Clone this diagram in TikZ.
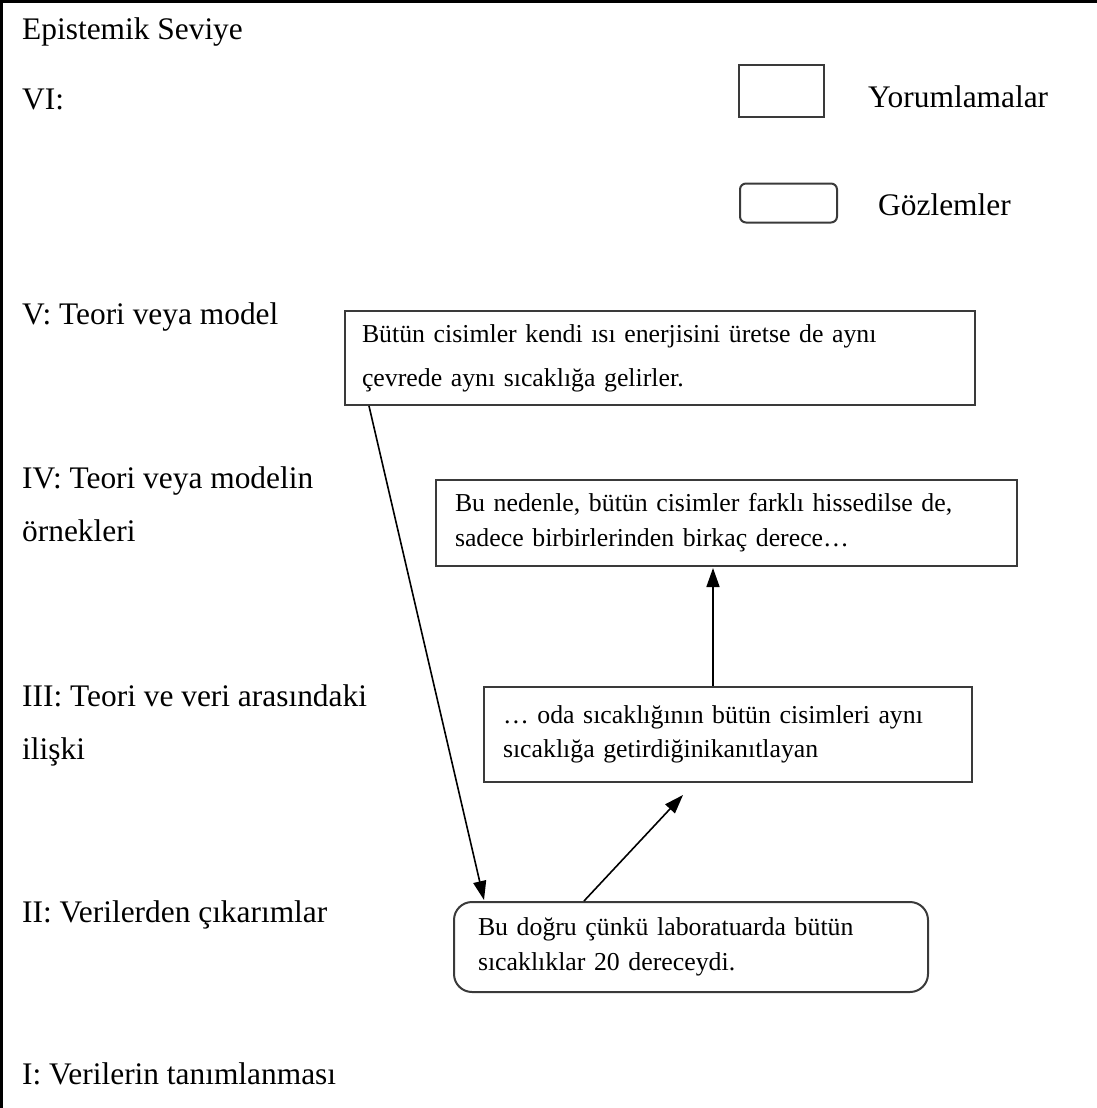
\documentclass[tikz,border=0pt]{standalone}
\usepackage{fontspec}
\setmainfont{Liberation Serif}
\usetikzlibrary{arrows.meta,calc}
\definecolor{boxgray}{HTML}{3A3A3A}
\begin{document}
\begin{tikzpicture}[x=1pt,y=-1pt,
  lvl/.style={anchor=base west,inner sep=0pt,font=\fontsize{31.4}{53}\selectfont},
  boxtxt/.style={draw=boxgray,line width=2pt,align=left,inner ysep=0pt,
    font=\fontsize{25.8}{35}\selectfont},
  legbox/.style={draw=boxgray,line width=2pt,inner sep=0pt},
  arr/.style={line width=1.6pt,-{Triangle[length=19pt,width=13pt]}}]
\useasboundingbox (0,0) rectangle (1097,1108);
\draw[line width=3pt] (1097,1.5) -- (1.5,1.5) -- (1.5,1108);
% level labels
\node[lvl] (t0) at (22,40) {Epistemik Seviye};
\node[lvl] (t6) at (22,109) {VI:};
\node[lvl] (t5) at (22,324) {V: Teori veya model};
\node[lvl] (t4) at (22,488) {IV: Teori veya modelin};
\node[lvl] (t4b) at (22,541) {örnekleri};
\node[lvl] (t3) at (22,706) {III: Teori ve veri arasındaki};
\node[lvl] (t3b) at (22,759) {ilişki};
\node[lvl] (t2) at (22,922) {II: Verilerden çıkarımlar};
\node[lvl] (t1) at (22,1084) {I: Verilerin tanımlanması};
% legend
\node[legbox,minimum width=85pt,minimum height=52pt] (legR) at (781.5,91) {};
\node[lvl] (legRt) at (868,107) {Yorumlamalar};
\node[legbox,rounded corners=6pt,minimum width=97pt,minimum height=39pt] (legO) at (788.5,203) {};
\node[lvl] (legOt) at (878,215) {Gözlemler};
% boxes
\node[boxtxt,inner xsep=17pt,text width=596pt,minimum height=94pt,
  font=\fontsize{25.8}{44}\selectfont] (V) at (660,358)
  {Bütün cisimler kendi ısı enerjisini üretse de aynı\\çevrede aynı sıcaklığa gelirler.};
\node[boxtxt,inner xsep=19pt,text width=543pt,minimum height=86pt] (IV) at (726.5,523)
  {Bu nedenle, bütün cisimler farklı hissedilse de,\\sadece birbirlerinden birkaç derece…};
\node[boxtxt,inner xsep=19pt,text width=450pt,minimum height=95pt,
  font=\fontsize{25.8}{34}\selectfont] (III) at (728,734.5)
  {… oda sıcaklığının bütün cisimleri aynı\\sıcaklığa getirdiğinikanıtlayan};
\node[boxtxt,rounded corners=18pt,inner xsep=24pt,text width=426pt,minimum height=90pt] (II) at (691,947)
  {Bu doğru çünkü laboratuarda bütün\\sıcaklıklar 20 dereceydi.};
% arrows
\coordinate (tipIII) at (683,795);
\draw[arr] ($(V.south west)+(25,0)$) -- ($(II.north west)+(31,-1)$);
\draw[arr] ($(II.north west)+(131,0)$) -- (tipIII);
\draw[arr] ($(III.north west)+(230,0)$) -- ($(IV.south west)+(278,1)$);
\end{tikzpicture}
\end{document}
